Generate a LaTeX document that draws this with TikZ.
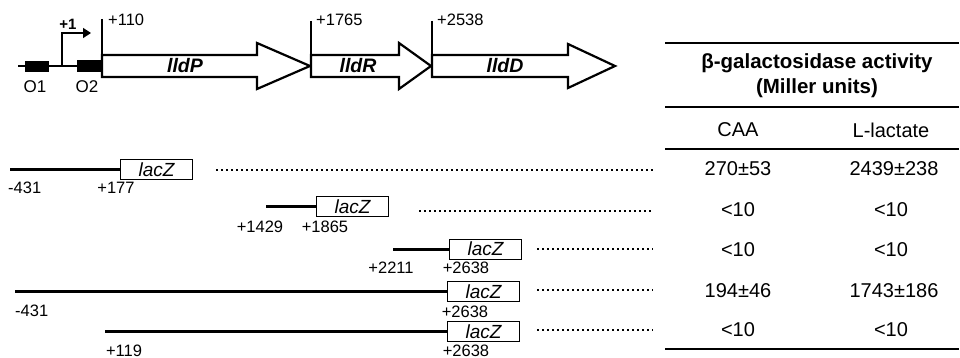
\documentclass[tikz,border=0pt]{standalone}
\usepackage{fontspec}
\setmainfont{Liberation Sans}
\usetikzlibrary{arrows.meta}
\begin{document}
\begin{tikzpicture}[x=1pt,y=-1pt,
  lbl/.style={font=\fontsize{16.5}{19}\selectfont, inner sep=0pt},
  gene/.style={draw=black, line width=2.2pt, fill=white, line join=miter},
  genetxt/.style={font=\fontsize{19.5}{22}\selectfont\bfseries\itshape, inner sep=0pt},
  tick/.style={line width=1.5pt},
  fragment/.style={line width=3pt},
  lacbox/.style={draw, line width=1pt, minimum width=72pt, minimum height=20pt, inner sep=0pt, font=\fontsize{19}{21}\selectfont\itshape},
  dots/.style={line width=2pt, dash pattern=on 2pt off 3pt},
  tabtxt/.style={font=\fontsize{20}{23}\selectfont, inner sep=0pt},
  rule/.style={line width=1.8pt}]
\useasboundingbox (0,0) rectangle (960,358);
% operon map
\draw[line width=2.5pt] (18,66) -- (102,66);
\fill (25,61) rectangle (49,72);
\fill (77,60) rectangle (102,72);
\node[lbl, font=\fontsize{17}{20}\selectfont] (o1) at (35,87) {O1};
\node[lbl, font=\fontsize{17}{20}\selectfont] (o2) at (87,87) {O2};
\coordinate (tss) at (62,66);
\coordinate (tssend) at (91,33);
\draw[line width=1.5pt, -{Triangle[length=8pt,width=10pt]}] (tss) |- (tssend);
\node[lbl, font=\fontsize{15}{17}\selectfont\bfseries] (p1) at (68,24) {+1};
% genes
\draw[gene] (102,55) -- (257,55) -- (257,43) -- (310,66) -- (257,89) -- (257,77) -- (102,77) -- cycle;
\draw[gene] (311,55) -- (399,55) -- (399,43) -- (431,66) -- (399,89) -- (399,77) -- (311,77) -- cycle;
\draw[gene] (432,55) -- (568,55) -- (568,44) -- (615,66) -- (568,88) -- (568,77) -- (432,77) -- cycle;
\node[genetxt] (lldP) at (185,66) {lldP};
\node[genetxt] (lldR) at (358,66) {lldR};
\node[genetxt] (lldD) at (505,66) {lldD};
\draw[tick] (102,19) -- (102,66);
\draw[tick] (311,21) -- (311,66);
\draw[tick] (432,21) -- (432,66);
\node[lbl, anchor=west] (p110) at (108,20) {+110};
\node[lbl, anchor=west] (p1765) at (316,20) {+1765};
\node[lbl, anchor=west] (p2538) at (437,20) {+2538};
% constructs
\node[lacbox] (z1) at (156.5,169.5) {lacZ};
\node[lacbox] (z2) at (352.5,206.5) {lacZ};
\node[lacbox] (z3) at (485.5,249) {lacZ};
\node[lacbox] (z4) at (483.5,291.5) {lacZ};
\node[lacbox] (z5) at (483.5,331.5) {lacZ};
\coordinate (s1) at (10,169.5);
\coordinate (s2) at (266,206.5);
\coordinate (s3) at (393,249);
\coordinate (s4) at (15,291.5);
\coordinate (s5) at (105,331.5);
\draw[fragment] (s1) -- (z1.west);
\draw[fragment] (s2) -- (z2.west);
\draw[fragment] (s3) -- (z3.west);
\draw[fragment] (s4) -- (z4.west);
\draw[fragment] (s5) -- (z5.west);
\coordinate (d1a) at (216,170.5); \coordinate (d1b) at (653,170.5);
\coordinate (d2a) at (419,211); \coordinate (d2b) at (653,211);
\coordinate (d3a) at (537,249); \coordinate (d3b) at (653,249);
\coordinate (d4a) at (537,289.5); \coordinate (d4b) at (653,289.5);
\coordinate (d5a) at (537,330); \coordinate (d5b) at (653,330);
\draw[dots] (d1a) -- (d1b);
\draw[dots] (d2a) -- (d2b);
\draw[dots] (d3a) -- (d3b);
\draw[dots] (d4a) -- (d4b);
\draw[dots] (d5a) -- (d5b);
\node[lbl, anchor=west] (m431a) at (8,188) {-431};
\node[lbl] (p177) at (116,188) {+177};
\node[lbl] (p1429) at (260,227) {+1429};
\node[lbl] (p1865) at (325,227) {+1865};
\node[lbl] (p2211) at (391,268) {+2211};
\node[lbl] (p2638a) at (466,268) {+2638};
\node[lbl, anchor=west] (m431b) at (15,311) {-431};
\node[lbl] (p2638b) at (465,311.5) {+2638};
\node[lbl] (p119) at (124,350.5) {+119};
\node[lbl] (p2638c) at (466,350.5) {+2638};
% table
\draw[rule] (665,43) -- (959,43);
\draw[rule] (665,107) -- (959,107);
\draw[rule] (665,149) -- (959,149);
\draw[rule] (665,349) -- (959,349);
\node[tabtxt, font=\fontsize{20.5}{25}\selectfont\bfseries, align=center] (hdr) at (817,76) {β-galactosidase activity\\(Miller units)};
\node[tabtxt] (caa) at (738,130) {CAA};
\node[tabtxt] (llac) at (891,130) {L-lactate};
\node[tabtxt] (a1) at (738,169) {270±53};
\node[tabtxt] (b1) at (894,169) {2439±238};
\node[tabtxt] (a2) at (738,210) {<10};
\node[tabtxt] (b2) at (891,210) {<10};
\node[tabtxt] (a3) at (738,250) {<10};
\node[tabtxt] (b3) at (891,250) {<10};
\node[tabtxt] (a4) at (738,291) {194±46};
\node[tabtxt] (b4) at (894,291) {1743±186};
\node[tabtxt] (a5) at (738,330) {<10};
\node[tabtxt] (b5) at (891,330) {<10};
\end{tikzpicture}
\end{document}
